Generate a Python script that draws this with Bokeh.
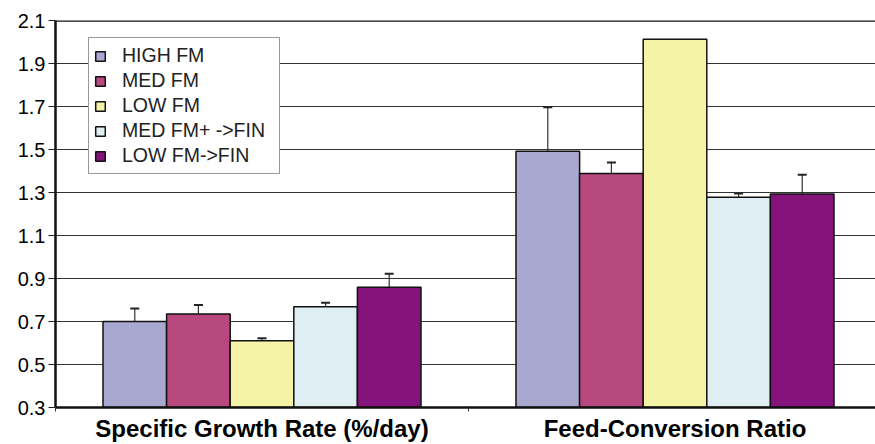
from bokeh.plotting import figure
from bokeh.models import (Range1d, FixedTicker, Legend, LegendItem, Whisker, TeeHead,
                          ColumnDataSource, Span)
from bokeh.embed import file_html
from bokeh.resources import INLINE

categories = ["Specific Growth Rate (%/day)", "Feed-Conversion Ratio"]
series = ["HIGH FM", "MED FM", "LOW FM", "MED FM+ ->FIN", "LOW FM->FIN"]
colors = ["#A9A8D0", "#B7497E", "#F5F3A6", "#DFEEF3", "#84147C"]
# values per series: [SGR, FCR]
values = {
    "HIGH FM":       [0.700, 1.492],
    "MED FM":        [0.735, 1.388],
    "LOW FM":        [0.610, 2.013],
    "MED FM+ ->FIN": [0.769, 1.278],
    "LOW FM->FIN":   [0.859, 1.293],
}
errors = {
    "HIGH FM":       [0.061, 0.205],
    "MED FM":        [0.042, 0.051],
    "LOW FM":        [0.012, 0.0],
    "MED FM+ ->FIN": [0.018, 0.017],
    "LOW FM->FIN":   [0.063, 0.090],
}
y_ticks = [0.3, 0.5, 0.7, 0.9, 1.1, 1.3, 1.5, 1.7, 1.9, 2.1]
y_tick_labels = ["0.3", "0.5", "0.7", "0.9", "1.1", "1.3", "1.5", "1.7", "1.9", "2.1"]

FONT = "Liberation Sans"
bar_w = 0.154
n = len(series)

p = figure(width=875, height=444, output_backend="svg", toolbar_location=None,
           x_range=Range1d(0, 820 / 413), y_range=Range1d(0.3, 2.1),
           min_border_left=55, min_border_right=0, min_border_top=20, min_border_bottom=37)
p.outline_line_color = None
p.background_fill_color = "white"
p.border_fill_color = "white"

items = []
for i, s in enumerate(series):
    xs = [c + 0.5 + (i - (n - 1) / 2) * bar_w for c in range(len(categories))]
    src = ColumnDataSource(dict(x=xs, top=values[s]))
    r = p.vbar(x="x", top="top", bottom=0.3, width=bar_w, source=src,
               fill_color=colors[i], line_color="#111111", line_width=1.5)
    items.append(LegendItem(label=s, renderers=[r]))
    ex, lo, hi = [], [], []
    for x, v, e in zip(xs, values[s], errors[s]):
        if e > 0:
            ex.append(x); lo.append(v); hi.append(v + e)
    esrc = ColumnDataSource(dict(base=ex, lower=lo, upper=hi))
    w = Whisker(base="base", lower="lower", upper="upper", source=esrc,
                line_color="#333333", line_width=1.2,
                upper_head=TeeHead(size=9, line_width=2, line_color="#222222"),
                lower_head=None)
    p.add_layout(w)

p.add_layout(Span(location=2.1, dimension="width", line_color="#111111", line_width=2.5))

# y axis
p.yaxis.ticker = FixedTicker(ticks=y_ticks)
p.yaxis.major_label_overrides = {t: l for t, l in zip(y_ticks, y_tick_labels)}
p.yaxis.major_label_text_font = FONT
p.yaxis.major_label_text_font_size = "20px"
p.yaxis.major_label_text_color = "black"
p.yaxis.axis_line_width = 2.5
p.yaxis.axis_line_color = "#111111"
p.yaxis.major_tick_out = 7
p.yaxis.major_tick_in = 0
p.yaxis.major_tick_line_color = "#222222"
p.yaxis.major_tick_line_width = 1.2
p.yaxis.minor_tick_line_color = None
p.yaxis.major_label_standoff = 3

# x axis: category names at centers, boundary ticks as minor ticks
p.xaxis.ticker = FixedTicker(ticks=[c + 0.5 for c in range(len(categories))],
                             minor_ticks=list(range(len(categories) + 1)))
p.xaxis.major_label_overrides = {c + 0.5: lab for c, lab in enumerate(categories)}
p.xaxis.major_label_text_font = FONT
p.xaxis.major_label_text_font_style = "bold"
p.xaxis.major_label_text_font_size = "24px"
p.xaxis.major_label_text_color = "black"
p.xaxis.major_label_standoff = 7
p.xaxis.major_tick_line_color = None
p.xaxis.major_tick_out = 0
p.xaxis.major_tick_in = 0
p.xaxis.minor_tick_out = 0
p.xaxis.minor_tick_in = -4
p.xaxis.minor_tick_line_color = "#333333"
p.xaxis.axis_line_width = 2.5
p.xaxis.axis_line_color = "#111111"

p.xgrid.grid_line_color = None
p.ygrid.ticker = FixedTicker(ticks=y_ticks)
p.ygrid.grid_line_color = "#333333"
p.ygrid.grid_line_width = 1.2

legend = Legend(items=items, location=(33, 233), padding=5, spacing=0,
                glyph_width=12, glyph_height=12, label_height=25, label_width=152,
                label_standoff=16, label_text_font=FONT, label_text_font_size="19.5px",
                label_text_color="#222222", border_line_color="#333333",
                border_line_width=1.2, background_fill_color="white",
                background_fill_alpha=1.0, margin=0)
p.add_layout(legend, "center")

open("out.html", "w").write(file_html(p, INLINE))
